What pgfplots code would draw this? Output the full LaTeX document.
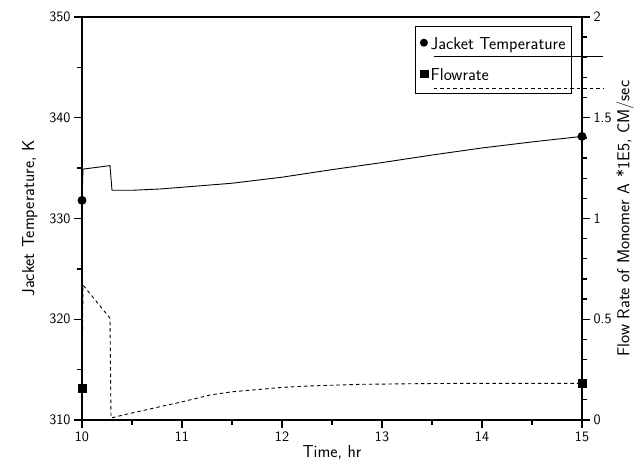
\documentclass[border=0pt]{standalone}
\renewcommand{\familydefault}{\sfdefault}
\usepackage{pgfplots}
\pgfplotsset{compat=1.18}
\begin{document}
\sffamily
\begin{tikzpicture}[font=\sffamily\Large]
\begin{axis}[
  scale only axis, width=500pt, height=403pt,
  xmin=10, xmax=15,
  name=ax,
  ymin=310, ymax=350,
  ytick={310,320,330,340,350}, minor y tick num=1,
  xtick={10,11,12,13,14,15}, minor x tick num=1,
  ytick pos=left, xtick pos=bottom,
  tick align=outside,
  /pgf/number format/assume math mode=true,
  tick label style={font=\sffamily\Large},
  label style={font=\sffamily\LARGE},
  axis line style={line width=1.8pt, draw=black},
  major tick length=8pt, minor tick length=5pt,
  every tick/.style={draw=black, line width=1.3pt},
  xlabel={Time, hr}, ylabel={Jacket Temperature, K},
  xlabel style={yshift=3pt},
  ylabel style={yshift=5pt},
  legend style={at={(0.98,0.978)}, anchor=north east, draw=black, line width=1pt,
    font=\sffamily\LARGE, row sep=14pt, inner xsep=4pt, inner ysep=9pt},
  legend cell align=left,
]
\addplot[black, line width=0.9pt, mark=*, mark size=4pt, mark indices={1,15},
  legend image code/.code={\fill[black] (0.05cm,0.05cm) circle (3.5pt);
    \draw[overlay, line width=1pt] (0.4cm,-0.45cm) -- (6.35cm,-0.45cm);}]
coordinates {(10,331.8) (10.01,334.9) (10.28,335.25) (10.30,332.8) (10.5,332.8) (10.78,332.93) (11,333.1) (11.5,333.5) (12,334.1) (12.5,334.85) (13,335.55) (13.5,336.3) (14,337.0) (14.5,337.6) (15,338.15)};
\addlegendentry{Jacket Temperature}
\addlegendimage{black, legend image code/.code={\fill[black] (-0.07cm,-0.08cm) rectangle (0.2cm,0.19cm);
    \draw[overlay, line width=1pt, dash pattern=on 3.5pt off 3pt] (0.4cm,-0.45cm) -- (6.35cm,-0.45cm);}}
\addlegendentry{Flowrate}
\end{axis}
\begin{axis}[
  scale only axis, width=500pt, height=403pt,
  xmin=10, xmax=15,
  axis y line*=right, axis x line=none,
  ymin=0, ymax=2,
  ytick={0,0.5,1,1.5,2}, minor y tick num=4,
  yticklabels={0,0.5,1,1.5,2},
  tick align=outside,
  /pgf/number format/assume math mode=true,
  tick label style={font=\sffamily\Large},
  label style={font=\sffamily\LARGE},
  axis line style={line width=1.8pt, draw=black},
  major tick length=8pt, minor tick length=5pt,
  every tick/.style={draw=black, line width=1.3pt},
  ylabel={Flow Rate of Monomer A *1E5, CM/sec},
  ylabel style={yshift=2pt},
]
\addplot[black, line width=0.9pt, dash pattern=on 3.5pt off 3pt, mark=square*, mark size=4pt, mark indices={1,16}, mark options={solid}]
coordinates {(10,0.157) (10.01,0.67) (10.28,0.505) (10.29,0.01) (10.5,0.035) (10.78,0.066) (11,0.09) (11.28,0.124) (11.5,0.14) (11.78,0.152) (12,0.162) (12.28,0.169) (12.78,0.177) (13.5,0.181) (14,0.182) (15,0.182)};
\end{axis}
\useasboundingbox ([shift={(-82pt,-48pt)}]ax.south west) rectangle ([shift={(61pt,17pt)}]ax.north east);
\end{tikzpicture}
\end{document}
